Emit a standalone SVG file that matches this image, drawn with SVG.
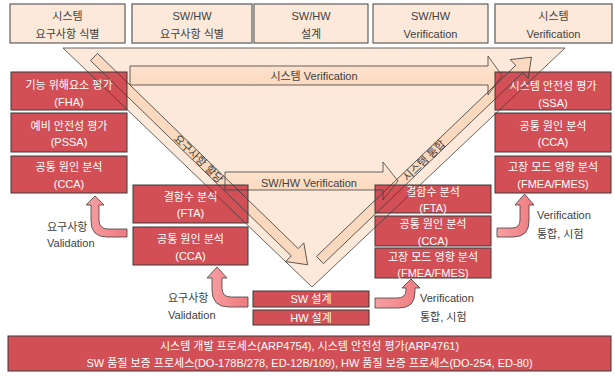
<svg xmlns="http://www.w3.org/2000/svg" xmlns:xlink="http://www.w3.org/1999/xlink" width="615" height="376" viewBox="0 0 615 376">
<style>
.tb{fill:#fde9d9;stroke:#404040;stroke-width:1}
.tb2{fill:#fde9d9;stroke:#7f7f7f;stroke-width:1.6}
.rb{fill:#d24f55;stroke:#3a3a3a;stroke-width:1}
.t{font-family:"Liberation Sans","Noto Sans CJK KR",sans-serif;font-size:11px;text-anchor:middle;fill:#404040}
.w{fill:#ffffff}
.l{text-anchor:start}
.pa{fill:url(#pg);stroke:#404040;stroke-width:0.8}
.out{fill:none;stroke:#404040;stroke-width:0.8}
</style>
<defs>
<linearGradient id="pg" x1="0" y1="0" x2="1" y2="0">
<stop offset="0" stop-color="#f7a0a2"/>
<stop offset="1" stop-color="#ef7b7f"/>
</linearGradient>
<linearGradient id="hg" x1="0" y1="0" x2="0" y2="1">
<stop offset="0" stop-color="#fde6d4"/>
<stop offset="1" stop-color="#fbd6b8"/>
</linearGradient>
<polygon id="tri" points="63,48 565,48 312,287"/>
<polygon id="hv1" points="130,66 488,66 488,56 502,75.5 488,95 488,85 130,85"/>
<polygon id="hv2" points="225,172 383,172 383,162 398,181 383,200 383,190 225,190"/>
<polygon id="dl" points="0,-5 280,-5 280,-13 298,0 280,13 280,5 0,5" transform="translate(94,57) rotate(44.2)"/>
<polygon id="dr" points="0,-5 276,-5 276,-13 293,0 276,13 276,5 0,5" transform="translate(320,260) rotate(-43.8)"/>
</defs>

<g id="top-boxes">
<g id="top1"><rect class="tb" x="10" y="4" width="115" height="39"/><text class="t" x="67.5" y="20">시스템</text><text class="t" x="67.5" y="38">요구사항 식별</text></g>
<g id="top2"><rect class="tb2" x="132" y="4" width="120" height="39"/><text class="t" x="192" y="20">SW/HW</text><text class="t" x="192" y="38">요구사항 식별</text></g>
<g id="top3"><rect class="tb" x="254" y="4" width="114" height="39"/><text class="t" x="311" y="20">SW/HW</text><text class="t" x="311" y="38">설계</text></g>
<g id="top4"><rect class="tb" x="373" y="4" width="115" height="39"/><text class="t" x="430.5" y="20">SW/HW</text><text class="t" x="430.5" y="38">Verification</text></g>
<g id="top5"><rect class="tb2" x="495" y="4" width="117" height="39"/><text class="t" x="553.5" y="20">시스템</text><text class="t" x="553.5" y="38">Verification</text></g>
</g>

<g id="v-fill">
<use xlink:href="#tri" fill="#fde9d9"/>
<use xlink:href="#hv1" fill="url(#hg)"/>
<use xlink:href="#hv2" fill="url(#hg)"/>
<use xlink:href="#dl" fill="#fbd9bf"/>
<use xlink:href="#dr" fill="#fbd9bf"/>
</g>

<g id="fha"><rect class="rb" x="11" y="72" width="116" height="38"/><text class="t w" x="69" y="89">기능 위해요소 평가</text><text class="t w" x="69" y="106">(FHA)</text></g>
<g id="pssa"><rect class="rb" x="11" y="113" width="116" height="39"/><text class="t w" x="69" y="130">예비 안전성 평가</text><text class="t w" x="69" y="146">(PSSA)</text></g>
<g id="cca-l1"><rect class="rb" x="11" y="156" width="116" height="37"/><text class="t w" x="69" y="171">공통 원인 분석</text><text class="t w" x="69" y="188">(CCA)</text></g>
<g id="fta-l2"><rect class="rb" x="133" y="185" width="115" height="38"/><text class="t w" x="190.5" y="201">결함수 분석</text><text class="t w" x="190.5" y="217">(FTA)</text></g>
<g id="cca-l2"><rect class="rb" x="133" y="227" width="115" height="38"/><text class="t w" x="190.5" y="243">공통 원인 분석</text><text class="t w" x="190.5" y="260">(CCA)</text></g>
<g id="ssa"><rect class="rb" x="495" y="72" width="116" height="38"/><text class="t w" x="553" y="90">시스템 안전성 평가</text><text class="t w" x="553" y="107">(SSA)</text></g>
<g id="cca-r1"><rect class="rb" x="495" y="113" width="116" height="39"/><text class="t w" x="553" y="130">공통 원인 분석</text><text class="t w" x="553" y="146">(CCA)</text></g>
<g id="fmea-r1"><rect class="rb" x="495" y="156" width="116" height="37"/><text class="t w" x="553" y="171">고장 모드 영향 분석</text><text class="t w" x="553" y="188">(FMEA/FMES)</text></g>
<g id="fta-r2"><rect class="rb" x="375" y="185" width="116" height="28"/><text class="t w" x="433" y="196">결함수 분석</text><text class="t w" x="433" y="212">(FTA)</text></g>
<g id="cca-r2"><rect class="rb" x="375" y="216" width="116" height="30"/><text class="t w" x="433" y="228">공통 원인 분석</text><text class="t w" x="433" y="245">(CCA)</text></g>
<g id="fmea-r2"><rect class="rb" x="375" y="248" width="116" height="30"/><text class="t w" x="433" y="261">고장 모드 영향 분석</text><text class="t w" x="433" y="277">(FMEA/FMES)</text></g>
<g id="sw"><rect class="rb" x="253" y="291" width="116" height="16"/><text class="t w" x="311" y="303">SW 설계</text></g>
<g id="hw"><rect class="rb" x="253" y="310" width="116" height="15"/><text class="t w" x="311" y="322">HW 설계</text></g>
<g id="standards"><rect class="rb" x="8" y="336" width="603" height="35"/><text class="t w" x="309.5" y="350">시스템 개발 프로세스(ARP4754), 시스템 안전성 평가(ARP4761)</text><text class="t w" x="309.5" y="367">SW 품질 보증 프로세스(DO-178B/278, ED-12B/109), HW 품질 보증 프로세스(DO-254, ED-80)</text></g>

<g id="connectors">
<use xlink:href="#tri" class="out"/>
<use xlink:href="#hv1" class="out"/>
<use xlink:href="#hv2" class="out"/>
<use xlink:href="#dl" class="out"/>
<use xlink:href="#dr" class="out"/>
<path class="pa" d="M127 229 L108 229 Q99 229 99 220 L99 205 L104 205 L95 196 L86 205 L91 205 L91 221 Q91 237 107 237 L127 237 Z"/>
<path class="pa" d="M248 297 L231 297 Q222 297 222 288 L222 278 L227 278 L217 267 L207 278 L212 278 L212 290 Q212 307 229 307 L248 307 Z"/>
<path class="pa" d="M497 228 L512 228 Q520 228 520 220 L520 205 L515 205 L524.5 194 L534 205 L529 205 L529 221 Q529 237 513 237 L497 237 Z"/>
<path class="pa" d="M375 298 L397 298 Q406 298 406 290 L406 288 L402 288 L411 279 L420 288 L415 288 L415 292 Q415 308 399 308 L375 308 Z"/>
</g>

<g id="labels">
<text class="t" x="314" y="80">시스템 Verification</text>
<text class="t" x="309" y="187">SW/HW Verification</text>
<text class="t" transform="translate(94,57) rotate(44.2)" x="146" y="4">요구사항 할당</text>
<text class="t" transform="translate(320,260) rotate(-43.8)" x="144" y="4">시스템 통합</text>
<text class="t l" x="47" y="231">요구사항</text>
<text class="t l" x="47" y="247">Validation</text>
<text class="t l" x="168" y="302">요구사항</text>
<text class="t l" x="168" y="319">Validation</text>
<text class="t l" x="537" y="219">Verification</text>
<text class="t l" x="537" y="238">통합, 시험</text>
<text class="t l" x="420" y="302">Verification</text>
<text class="t l" x="420" y="321">통합, 시험</text>
</g>
</svg>
